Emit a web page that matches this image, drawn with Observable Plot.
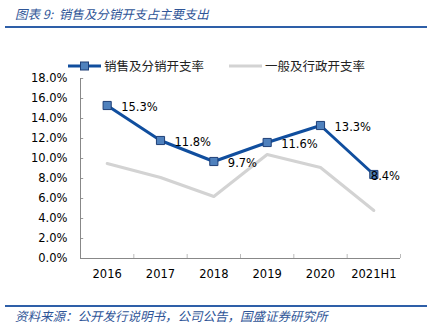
<!DOCTYPE html>
<html>
<head>
<meta charset="utf-8">
<script src="https://cdn.jsdelivr.net/npm/d3@7"></script>
<script src="https://cdn.jsdelivr.net/npm/@observablehq/plot@0.6"></script>
<style>
  html, body { margin: 0; padding: 0; background: #fff; }
  #wrap { position: relative; width: 437px; height: 331px; overflow: hidden; font-family: "Noto Sans CJK SC", sans-serif; }
  .title { position: absolute; left: 15px; top: 5px; font-size: 12.5px; font-style: italic; color: #2F5597; white-space: nowrap; line-height: 18px; }
  .rule { position: absolute; left: 5px; width: 422px; height: 2px; background: #2E5FA8; }
  .footer { position: absolute; left: 15px; top: 307px; font-size: 12.5px; font-style: italic; color: #2F5597; white-space: nowrap; line-height: 18px; }
  .legend { position: absolute; top: 57px; font-size: 12.5px; color: #222; white-space: nowrap; line-height: 18px; display: flex; align-items: center; }
  .legend svg { margin-right: 3px; }
  #chart { position: absolute; left: 0; top: 30px; }
</style>
</head>
<body>
<div id="wrap">
  <div class="title">图表 9:&nbsp; 销售及分销开支占主要支出</div>
  <div class="rule" style="top:26px"></div>
  <div class="legend" style="left:68px">
    <svg width="33" height="10"><line x1="0" y1="5" x2="33" y2="5" stroke="#104E9E" stroke-width="3"/><rect x="12.5" y="1" width="8" height="8" fill="#4F81BD" stroke="#1F3F77" stroke-width="1"/></svg>销售及分销开支率
  </div>
  <div class="legend" style="left:229px">
    <svg width="33" height="10"><line x1="0" y1="5" x2="33" y2="5" stroke="#D3D3D3" stroke-width="3"/></svg>一般及行政开支率
  </div>
  <div id="chart"></div>
  <div class="rule" style="top:305px"></div>
  <div class="footer">资料来源：公开发行说明书，公司公告，国盛证券研究所</div>
</div>
<script>
const categories = ["2016", "2017", "2018", "2019", "2020", "2021H1"];
const sellingRate = [15.3, 11.8, 9.7, 11.6, 13.3, 8.4];
const adminRate = [9.5, 8.1, 6.2, 10.4, 9.1, 4.8];
const yTicks = [0, 2, 4, 6, 8, 10, 12, 14, 16, 18];

const idx = categories.map((c, i) => i);
const selling = idx.map(i => ({i, cat: categories[i], v: sellingRate[i]}));
const admin = idx.map(i => ({i, cat: categories[i], v: adminRate[i]}));
const boundaries = idx.map(i => i + 0.5);
const last = selling.length - 1;

const chart = Plot.plot({
  width: 437,
  height: 262,
  marginLeft: 80,
  marginRight: 37,
  marginTop: 48,
  marginBottom: 34,
  style: { fontFamily: "DejaVu Sans, Verdana, sans-serif", fontSize: "11.5px", color: "#000", background: "transparent" },
  x: { type: "linear", domain: [-0.5, idx.length - 0.5] },
  y: { domain: [0, 18] },
  marks: [
    Plot.axisY({ ticks: yTicks, tickSize: 0, tickPadding: 13, tickFormat: d => d.toFixed(1) + "%", label: null, fill: "#000" }),
    Plot.axisX({ ticks: idx, tickSize: 0, tickPadding: 11, tickFormat: i => categories[i], label: null, fill: "#000" }),
    Plot.ruleY(yTicks, { x1: -0.5, x2: -0.5 + 0.06, stroke: "#999", strokeWidth: 1 }),
    Plot.ruleX(boundaries, { y1: 0, y2: 0.4, stroke: "#bbb", strokeWidth: 1 }),
    Plot.ruleX([-0.5], { y1: 0, y2: 18, stroke: "#888", strokeWidth: 1 }),
    Plot.ruleY([0], { x1: -0.5, x2: idx.length - 0.5, stroke: "#888", strokeWidth: 1 }),
    Plot.line(admin, { x: "i", y: "v", stroke: "#D3D3D3", strokeWidth: 3 }),
    Plot.line(selling, { x: "i", y: "v", stroke: "#104E9E", strokeWidth: 3 }),
    Plot.dot(selling, { x: "i", y: "v", symbol: "square", r: 4.6, fill: "#4F81BD", stroke: "#1F3F77", strokeWidth: 1 }),
    Plot.text(selling.slice(0, last), { x: "i", y: "v", text: d => d.v.toFixed(1) + "%", textAnchor: "start", dx: 14, dy: 2, fill: "#000" }),
    Plot.text(selling.slice(last), { x: "i", y: "v", text: d => d.v.toFixed(1) + "%", textAnchor: "start", dx: -3, dy: 2, fill: "#000" })
  ]
});
document.getElementById("chart").appendChild(chart);
</script>
</body>
</html>
